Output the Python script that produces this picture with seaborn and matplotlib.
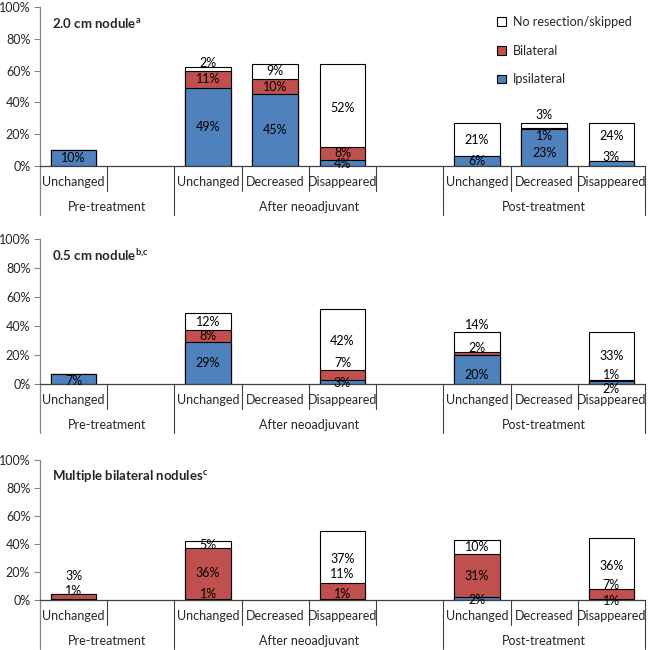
import numpy as np
import pandas as pd
import matplotlib
matplotlib.use("Agg")
import matplotlib.pyplot as plt
import matplotlib.transforms as mtransforms
from matplotlib.patches import Patch
import seaborn as sns

# slots along the x axis (two are empty spacers)
slots = ["pre_unch", "pre_gap", "an_unch", "an_dec", "an_dis", "an_gap",
         "pt_unch", "pt_dec", "pt_dis"]
slot_labels = ["Unchanged", "", "Unchanged", "Decreased", "Disappeared", "",
               "Unchanged", "Decreased", "Disappeared"]
groups = ["Pre-treatment", "After neoadjuvant", "Post-treatment"]
group_centers = [0.5, 3.5, 7.0]
series = ["Ipsilateral", "Bilateral", "No resection/skipped"]

panel_titles = ["2.0 cm nodule", "0.5 cm nodule", "Multiple bilateral nodules"]
panel_sups = ["a", "b{,}c", "c"]

# values per panel: slot -> (ipsilateral, bilateral, no resection)
p1_slots = ["pre_unch", "an_unch", "an_dec", "an_dis", "pt_unch", "pt_dec", "pt_dis"]
p1_ipsi = [10, 49, 45, 4, 6, 23, 3]
p1_bila = [0, 11, 10, 8, 0, 1, 0]
p1_none = [0, 2, 9, 52, 21, 3, 24]

p2_slots = ["pre_unch", "an_unch", "an_dis", "pt_unch", "pt_dis"]
p2_ipsi = [7, 29, 3, 20, 2]
p2_bila = [0, 8, 7, 2, 1]
p2_none = [0, 12, 42, 14, 33]

p3_slots = ["pre_unch", "an_unch", "an_dis", "pt_unch", "pt_dis"]
p3_ipsi = [1, 1, 1, 2, 1]
p3_bila = [3, 36, 11, 31, 7]
p3_none = [0, 5, 37, 10, 36]

panels = [
    (p1_slots, p1_ipsi, p1_bila, p1_none),
    (p2_slots, p2_ipsi, p2_bila, p2_none),
    (p3_slots, p3_ipsi, p3_bila, p3_none),
]

# manual label nudges (in % units) like the hand-placed labels of the original
nudges = {
    (0, "an_unch", 2): 4, (0, "pt_dec", 0): -3.5, (0, "pt_dec", 1): -4.5,
    (0, "pt_dec", 2): 6.5, (0, "pt_dis", 0): 4, (0, "pt_dis", 2): 4,
    (0, "an_dis", 2): -1.5, (0, "an_dis", 0): -1,
    (1, "pre_unch", 0): -1.5, (1, "an_dis", 0): -1, (1, "an_dis", 1): 8,
    (1, "an_dis", 2): -1.5, (1, "pt_unch", 0): -4, (1, "pt_unch", 1): 4,
    (1, "pt_unch", 2): 12, (1, "pt_dis", 0): -4.5, (1, "pt_dis", 1): 3.5,
    (2, "pre_unch", 0): 6, (2, "pre_unch", 1): 14.5, (2, "an_unch", 0): 3.5,
    (2, "an_dis", 0): 3.5, (2, "an_dis", 1): 12, (2, "an_dis", 2): -1.5,
    (2, "pt_unch", 0): -1, (2, "pt_dis", 0): -1, (2, "pt_dis", 1): 6.5,
    (2, "pt_dis", 2): -2,
}

colors = {"Ipsilateral": "#4F81BD", "Bilateral": "#C0504D",
          "No resection/skipped": "#FFFFFF"}

sns.set_theme(style="white")
plt.rcParams["font.family"] = ["Lato", "DejaVu Sans"]
plt.rcParams["mathtext.fontset"] = "custom"
plt.rcParams["mathtext.bf"] = "Lato:bold"
plt.rcParams["mathtext.rm"] = "Lato"

FS = 9
W = 650
fig = plt.figure(figsize=(6.5, 6.5), dpi=100)

# plot areas in pixels: (top, bottom)
areas = [(7, 166), (239, 384), (460, 600)]
left_px, right_px = 40, 645

for pi, (pslots, ipsi, bila, none) in enumerate(panels):
    top, bot = areas[pi]
    ax = fig.add_axes([left_px / W, (W - bot) / W, (right_px - left_px) / W,
                       (bot - top) / W])
    ax_h = bot - top

    df = pd.DataFrame({"slot": pslots, "ipsi": ipsi, "bila": bila, "none": none})
    df["c1"] = df["ipsi"]
    df["c2"] = df["ipsi"] + df["bila"]
    df["c3"] = df["c2"] + df["none"]

    # stacked bars: draw cumulative totals from the top down
    for col, name in [("c3", "No resection/skipped"), ("c2", "Bilateral"),
                      ("c1", "Ipsilateral")]:
        sns.barplot(data=df, x="slot", y=col, order=slots, color=colors[name],
                    saturation=1, width=0.68, edgecolor="black", linewidth=0.8,
                    ax=ax, errorbar=None)

    # data labels
    for _, row in df.iterrows():
        xi = slots.index(row["slot"])
        base = 0
        for si, key in enumerate(["ipsi", "bila", "none"]):
            v = row[key]
            if v > 0:
                y = base + v / 2 + nudges.get((pi, row["slot"], si), 0)
                ax.text(xi, y, f"{v}%", ha="center", va="center", fontsize=FS,
                        color="black")
            base += v

    ax.set_ylim(0, 100)
    ax.set_xlim(-0.5, 8.5)
    ax.set_yticks(np.arange(0, 101, 20))
    ax.set_yticklabels([f"{t}%" for t in range(0, 101, 20)], fontsize=FS)
    ax.set_xticks([])
    ax.set_xlabel("")
    ax.set_ylabel("")
    ax.tick_params(axis="y", left=True, length=4, width=0.8, color="#868686",
                   pad=3)
    for s in ["top", "right"]:
        ax.spines[s].set_visible(False)
    ax.spines["left"].set_color("#868686")
    ax.spines["bottom"].set_color("#404040")
    ax.spines["left"].set_linewidth(0.9)
    ax.spines["bottom"].set_linewidth(0.9)

    # two-level category axis below the bars
    trans = mtransforms.blended_transform_factory(ax.transData, ax.transAxes)
    short = -25 / ax_h
    long_ = -49 / ax_h
    ax.plot([-0.5, -0.5], [0, long_], color="#868686", lw=0.9,
            transform=trans, clip_on=False)
    for b in np.arange(0.5, 9, 1.0):
        end = long_ if b in (1.5, 5.5, 8.5) else short
        ax.plot([b, b], [0, end], color="#404040", lw=0.8, transform=trans,
                clip_on=False)
    for xi, lab in enumerate(slot_labels):
        if lab:
            ax.text(xi, -16 / ax_h, lab, ha="center", va="center", fontsize=FS,
                    transform=trans)
    for g, gx in zip(groups, group_centers):
        ax.text(gx, -41 / ax_h, g, ha="center", va="center", fontsize=FS,
                transform=trans)

    ax.text(0.02, 1 - 16 / ax_h,
            panel_titles[pi] + r"$^{\mathbf{" + panel_sups[pi] + "}}$",
            transform=ax.transAxes, fontsize=FS + 0.5, fontweight="bold",
            ha="left", va="center")

    if pi == 0:
        handles = [Patch(facecolor=colors[n], edgecolor="black", linewidth=0.8,
                         label=n) for n in series[::-1]]
        ax.legend(handles=handles, loc="upper left",
                  bbox_to_anchor=(0.755, 0.945), frameon=False, fontsize=FS,
                  handlelength=0.7, handleheight=0.7, handletextpad=0.6,
                  labelspacing=1.35, borderaxespad=0, borderpad=0)

fig.savefig("out.png", dpi=100)
